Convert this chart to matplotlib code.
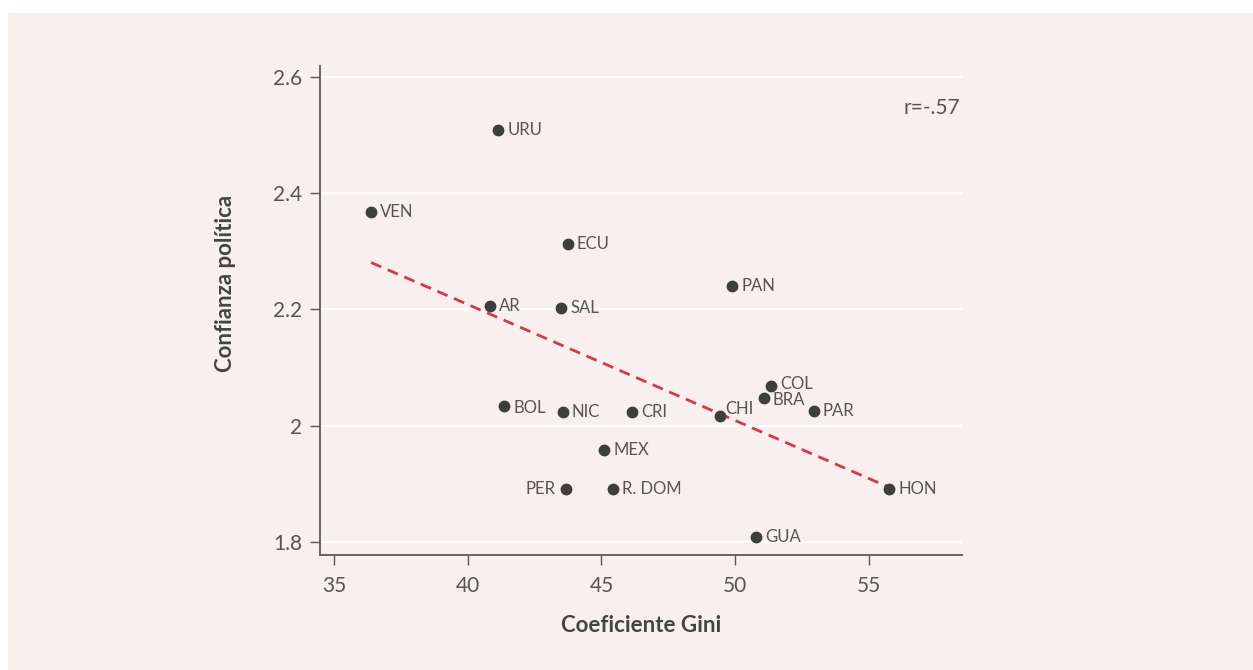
import numpy as np
import matplotlib
matplotlib.use("Agg")
import matplotlib.pyplot as plt
from matplotlib.patches import Rectangle

plt.rcParams["font.family"] = ["Lato", "DejaVu Sans"]

COLORS = {
    "panel": "#f9efee",
    "ink": "#444444",
    "muted": "#555555",
    "dot": "#3e3e3e",
    "fit": "#cf3b4b",
    "grid": "#ffffff",
}

# data
paises = ["URU", "VEN", "ECU", "AR", "SAL", "PAN", "COL", "BRA", "PAR", "CHI",
          "NIC", "CRI", "MEX", "R. DOM", "PER", "HON", "GUA", "BOL"]
gini = [41.15, 36.39, 43.75, 40.83, 43.49, 49.89, 51.34, 51.07, 52.94, 49.43,
        43.56, 46.15, 45.10, 45.43, 43.68, 55.76, 50.78, 41.36]
confianza = [2.508, 2.368, 2.313, 2.206, 2.203, 2.241, 2.069, 2.047, 2.026, 2.017,
             2.023, 2.023, 1.959, 1.891, 1.891, 1.892, 1.809, 2.034]
x_ticks = [35, 40, 45, 50, 55]
y_ticks = [1.8, 2.0, 2.2, 2.4, 2.6]
y_ticklabels = ["1.8", "2", "2.2", "2.4", "2.6"]

# label offsets in pixels (dx, dy), default to the right
offsets = {"CHI": (5, 7), "PER": (-11, 0), "BRA": (9, -2), "BOL": (9, -2), "COL": (9, 2)}

fig = plt.figure(figsize=(12.53, 6.7), dpi=100)
fig.patch.set_facecolor("white")
fig.add_artist(Rectangle((8 / 1253, 0), 1 - 8 / 1253, 1 - 13 / 670,
                         transform=fig.transFigure, facecolor=COLORS["panel"],
                         edgecolor="none", zorder=0))

ax = fig.add_axes([320 / 1253, 115 / 670, 642 / 1253, 489.3 / 670])
ax.set_facecolor(COLORS["panel"])
ax.set_xlim(34.48, 58.48)
ax.set_ylim(1.778, 2.619)

for s in ["top", "right"]:
    ax.spines[s].set_visible(False)
for s in ["left", "bottom"]:
    ax.spines[s].set_color("#5a5a5a")
    ax.spines[s].set_linewidth(1.3)

ax.set_xticks(x_ticks)
ax.set_yticks(y_ticks)
ax.set_yticklabels(y_ticklabels)
ax.tick_params(axis="both", length=7, width=1, color="#5a5a5a",
               labelsize=15, labelcolor=COLORS["muted"], pad=6)
ax.tick_params(axis="x", pad=8)
ax.yaxis.grid(True, color=COLORS["grid"], linewidth=1.5)
ax.set_axisbelow(True)

# regression line
coef = np.polyfit(gini, confianza, 1)
xs = np.array([min(gini), max(gini)])
ax.plot(xs, np.polyval(coef, xs), color=COLORS["fit"], linestyle=(0, (4, 2.5)),
        linewidth=2, zorder=2)

ax.plot(gini, confianza, "o", color=COLORS["dot"], markersize=7.5, zorder=3)

for name, gx, cy in zip(paises, gini, confianza):
    dx, dy = offsets.get(name, (9, 0))
    ax.annotate(name, (gx, cy), xytext=(dx, dy), textcoords="offset pixels",
                ha="right" if dx < 0 else "left", va="center",
                fontsize=12, color=COLORS["muted"], zorder=4)

ax.text(960 / 1253, 1 - 107.7 / 670, "r=-.57", transform=fig.transFigure,
        ha="right", va="center", fontsize=15, color=COLORS["muted"])

fig.text(641 / 1253, 1 - 626 / 670, "Coeficiente Gini", ha="center", va="center",
         fontsize=16, fontweight="bold", color=COLORS["ink"])
fig.text(226 / 1253, 1 - 283 / 670, "Confianza política", ha="center", va="center",
         rotation=90, fontsize=16, fontweight="bold", color=COLORS["ink"])

fig.savefig("out.png", dpi=100, facecolor="white")
